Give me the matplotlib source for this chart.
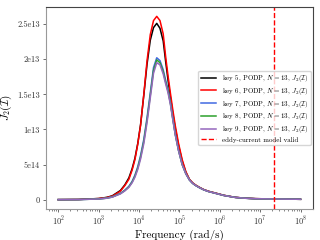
import numpy as np
import matplotlib
matplotlib.use('Agg')
import matplotlib.pyplot as plt

plt.rcParams['font.family'] = 'serif'
plt.rcParams['font.serif'] = ['cmr10', 'DejaVu Serif']
plt.rcParams['mathtext.fontset'] = 'cm'
plt.rcParams['axes.formatter.use_mathtext'] = True

# log10 of the frequency (rad/s) at which each curve was read
freq_exp = [2.0, 2.5, 3.0, 3.2, 3.34, 3.54, 3.65, 3.75, 3.83, 3.90,
            3.97, 4.04, 4.12, 4.20, 4.28, 4.36, 4.44, 4.52, 4.60, 4.66,
            4.72, 4.78, 4.84, 4.90, 4.98, 5.07, 5.16, 5.25, 5.33, 5.40,
            5.5, 5.6, 5.72, 5.89, 6.1, 6.38, 6.6, 6.88, 7.37, 8.0]

# J2(I) values, in units of 1e13
key5 = [0.0, 0.002, 0.016, 0.032, 0.055, 0.13, 0.21, 0.31, 0.44, 0.59,
        0.80, 1.07, 1.49, 1.93, 2.27, 2.45, 2.51, 2.44, 2.26, 1.97,
        1.70, 1.45, 1.22, 1.01, 0.77, 0.55, 0.39, 0.285, 0.235, 0.205,
        0.172, 0.143, 0.118, 0.093, 0.061, 0.033, 0.022, 0.014, 0.009, 0.005]
key6 = [0.0, 0.002, 0.015, 0.030, 0.05, 0.12, 0.20, 0.29, 0.42, 0.57,
        0.79, 1.06, 1.50, 1.98, 2.35, 2.55, 2.61, 2.55, 2.36, 2.04,
        1.76, 1.51, 1.27, 1.05, 0.80, 0.57, 0.40, 0.29, 0.24, 0.21,
        0.175, 0.145, 0.12, 0.095, 0.062, 0.033, 0.022, 0.014, 0.009, 0.005]
key7 = [0.0, 0.001, 0.010, 0.022, 0.04, 0.09, 0.135, 0.19, 0.26, 0.35,
        0.47, 0.63, 0.86, 1.17, 1.52, 1.88, 2.02, 1.98, 1.85, 1.70,
        1.57, 1.38, 1.15, 0.93, 0.70, 0.50, 0.37, 0.28, 0.232, 0.203,
        0.17, 0.141, 0.116, 0.091, 0.06, 0.032, 0.021, 0.013, 0.009, 0.005]
key8 = [0.0, 0.001, 0.0095, 0.021, 0.038, 0.086, 0.13, 0.182, 0.25, 0.335,
        0.45, 0.605, 0.83, 1.135, 1.485, 1.84, 1.99, 1.95, 1.82, 1.675,
        1.545, 1.365, 1.14, 0.925, 0.70, 0.50, 0.37, 0.28, 0.232, 0.203,
        0.17, 0.141, 0.116, 0.091, 0.06, 0.032, 0.021, 0.013, 0.009, 0.005]
key9 = [0.0, 0.001, 0.009, 0.020, 0.036, 0.082, 0.125, 0.175, 0.24, 0.32,
        0.43, 0.58, 0.80, 1.10, 1.45, 1.80, 1.95, 1.92, 1.79, 1.65,
        1.52, 1.35, 1.13, 0.92, 0.70, 0.50, 0.37, 0.28, 0.232, 0.203,
        0.17, 0.141, 0.116, 0.091, 0.06, 0.032, 0.021, 0.013, 0.009, 0.005]

eddy_limit = 2.2e7

ytick_vals = [0, 0.5e13, 1e13, 1.5e13, 2e13, 2.5e13]
ytick_labels = ['0', '5e14', '1e13', '1.5e13', '2e13', '2.5e13']

series = [('key 5', key5, 'k'),
          ('key 6', key6, 'r'),
          ('key 7', key7, 'royalblue'),
          ('key 8', key8, 'tab:green'),
          ('key 9', key9, 'tab:purple')]

freq = 10.0 ** np.array(freq_exp)

fig = plt.figure(figsize=(3.2, 2.4), dpi=100)
ax = fig.add_axes([0.144, 0.13, 0.833, 0.84])

for name, vals, col in series:
    ax.plot(freq, np.array(vals) * 1e13, color=col, lw=1.1,
            label=name + r', PODP, $N=13$, $J_2(\mathcal{I})$')
ax.axvline(eddy_limit, color='r', ls='--', lw=1.0, label='eddy-current model valid')

ax.set_xscale('log')
ax.set_yticks(ytick_vals)
ax.set_yticklabels(ytick_labels)
ax.set_xticks([1e2, 1e3, 1e4, 1e5, 1e6, 1e7, 1e8])

ax.tick_params(axis='both', which='major', labelsize=6, length=2.5, pad=2,
               width=0.6, colors='#555555', labelcolor='#333333')
ax.tick_params(axis='x', which='minor', length=1.5, width=0.5, colors='#555555')
for s in ['left', 'bottom']:
    ax.spines[s].set_color('#999999')
for s in ['top', 'right']:
    ax.spines[s].set_color('#444444')
for s in ax.spines.values():
    s.set_linewidth(0.8)

ax.set_xlabel('Frequency (rad/s)', fontsize=8, labelpad=1)
ax.set_ylabel(r'$J_2(\mathcal{I})$', fontsize=8, labelpad=2)

ax.legend(loc='center right', fontsize=5, handlelength=2.2,
          borderpad=0.35, labelspacing=0.25, borderaxespad=0.3)

fig.savefig('out.png', dpi=100)
